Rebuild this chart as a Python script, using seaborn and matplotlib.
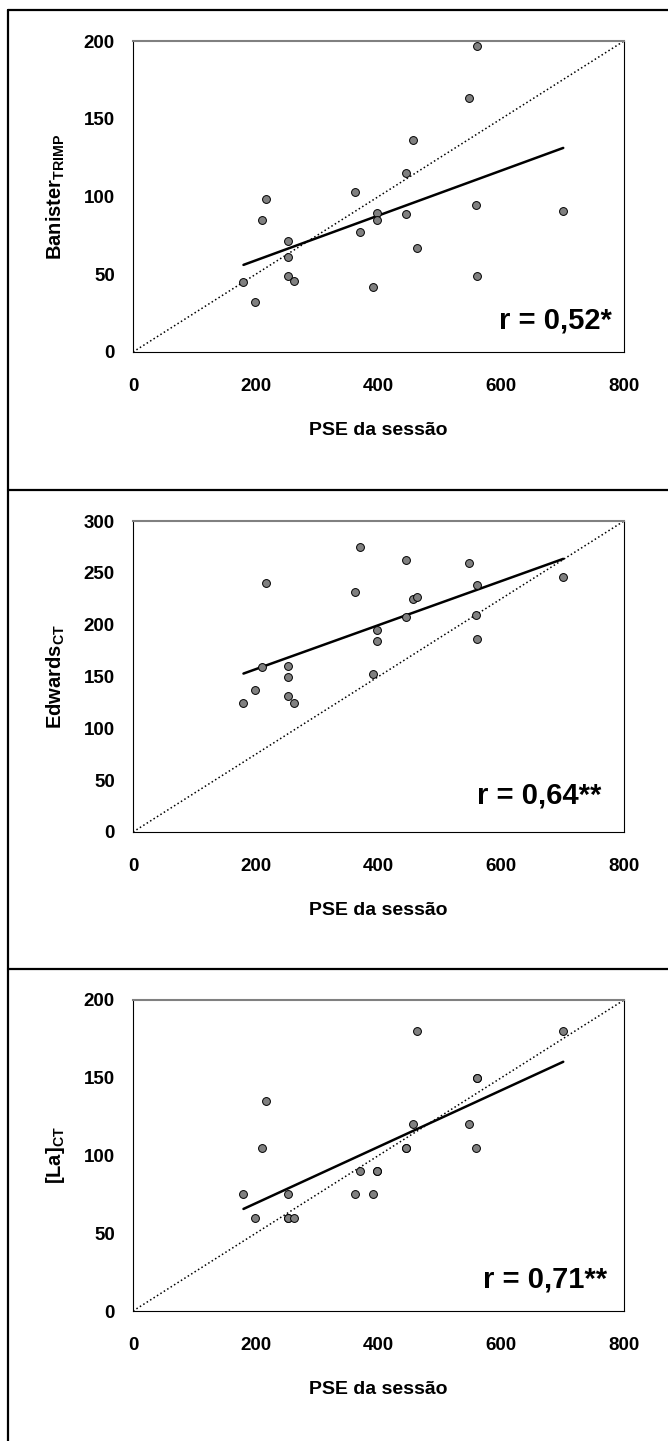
import numpy as np
import pandas as pd
import matplotlib.pyplot as plt
import seaborn as sns
from matplotlib.lines import Line2D

# data
pse = [180, 198, 210, 216, 253, 253, 253, 262, 361, 370, 391,
       397, 397, 445, 445, 457, 463, 547, 559, 561, 561, 701]
banister = [45.2, 31.9, 84.6, 98.4, 71.6, 61.3, 48.9, 45.6, 102.6, 77.4, 42.0,
            89.6, 84.6, 115.3, 88.5, 136.3, 66.6, 163.5, 94.3, 197.1, 48.9, 90.9]
edwards = [124.1, 136.7, 158.8, 240.2, 160.1, 149.5, 131.5, 124.1, 231.5, 274.6, 152.1,
           194.9, 183.9, 262.7, 207.7, 225.1, 226.4, 259.2, 209.3, 237.9, 185.9, 246.0]
lactato = [75, 60, 105, 135, 75, 60, 60, 60, 75, 90, 75,
           90, 90, 105, 105, 120, 180, 120, 105, 150, 150, 180]

ylabels = [r'Banister$_{\mathbf{TRIMP}}$', r'Edwards$_{\mathbf{CT}}$', r'[La]$_{\mathbf{CT}}$']
r_texts = ['r = 0,52*', 'r = 0,64**', 'r = 0,71**']
ymax = [200, 300, 200]
xlabel = 'PSE da sessão'

sns.set_style('white')
plt.rcParams['font.family'] = ['Liberation Sans', 'DejaVu Sans']
plt.rcParams['font.weight'] = 'bold'
plt.rcParams['mathtext.fontset'] = 'custom'
plt.rcParams['mathtext.bf'] = 'Liberation Sans:bold'
plt.rcParams['mathtext.rm'] = 'Liberation Sans:bold'
# seaborn greys the text, the original is plain black
plt.rcParams['text.color'] = 'black'
plt.rcParams['axes.labelcolor'] = 'black'
plt.rcParams['xtick.labelcolor'] = 'black'
plt.rcParams['ytick.labelcolor'] = 'black'

W, H = 668, 1441
fig = plt.figure(figsize=(W / 100, H / 100), dpi=100)

# outer frame and separators (pixel coords -> figure fraction)
def hline(y):
    fig.add_artist(Line2D([8 / W, 1], [1 - y / H, 1 - y / H], color='black', lw=1.6))

for y in [10, 490, 969]:
    hline(y)
fig.add_artist(Line2D([8 / W, 8 / W], [0, 1 - 10 / H], color='black', lw=1.6))

tops = [41, 521, 1000]
r_pos = [(0.975, 0.077), (0.954, 0.093), (0.965, 0.074)]
series = [banister, edwards, lactato]

for i in range(3):
    bottom = tops[i] + 311
    ax = fig.add_axes([133 / W, 1 - bottom / H, 491 / W, 311 / H])
    df = pd.DataFrame({'pse': pse, 'y': series[i]})

    # diagonal reference line
    ax.plot([0, 1], [0, 1], transform=ax.transAxes, color='black', ls=':', lw=1.1, zorder=1)
    sns.regplot(data=df, x='pse', y='y', ax=ax, scatter=False, ci=None, truncate=True,
                line_kws=dict(color='black', lw=1.8, zorder=2))
    sns.scatterplot(data=df, x='pse', y='y', ax=ax, color='#808080', edgecolor='black',
                    linewidth=0.7, s=32, zorder=3)

    ax.set_xlim(0, 800)
    ax.set_ylim(0, ymax[i])
    ax.set_xticks([0, 200, 400, 600, 800])
    ax.set_yticks(np.arange(0, ymax[i] + 1, 50))
    ax.tick_params(axis='both', direction='out', length=5, width=0.8, color='black',
                   labelcolor='black', labelsize=13.5)
    ax.tick_params(axis='y', pad=8)
    ax.tick_params(axis='x', pad=14)
    for lab in ax.get_xticklabels() + ax.get_yticklabels():
        lab.set_fontweight('bold')

    for s in ['left', 'bottom', 'right']:
        ax.spines[s].set_color('black')
        ax.spines[s].set_linewidth(0.8)
    ax.spines['top'].set_color('#808080')
    ax.spines['top'].set_linewidth(1.5)

    ax.set_xlabel(xlabel, fontsize=14, fontweight='bold', color='black')
    ax.set_ylabel(ylabels[i], fontsize=14.5, fontweight='bold', color='black')
    ax.xaxis.set_label_coords(0.5, -0.225)
    ax.yaxis.set_label_coords(-0.135, 0.5)

    ax.text(r_pos[i][0], r_pos[i][1], r_texts[i], transform=ax.transAxes, ha='right',
            va='baseline', fontsize=21, fontweight='bold', color='black')

fig.savefig('out.png', dpi=100)
